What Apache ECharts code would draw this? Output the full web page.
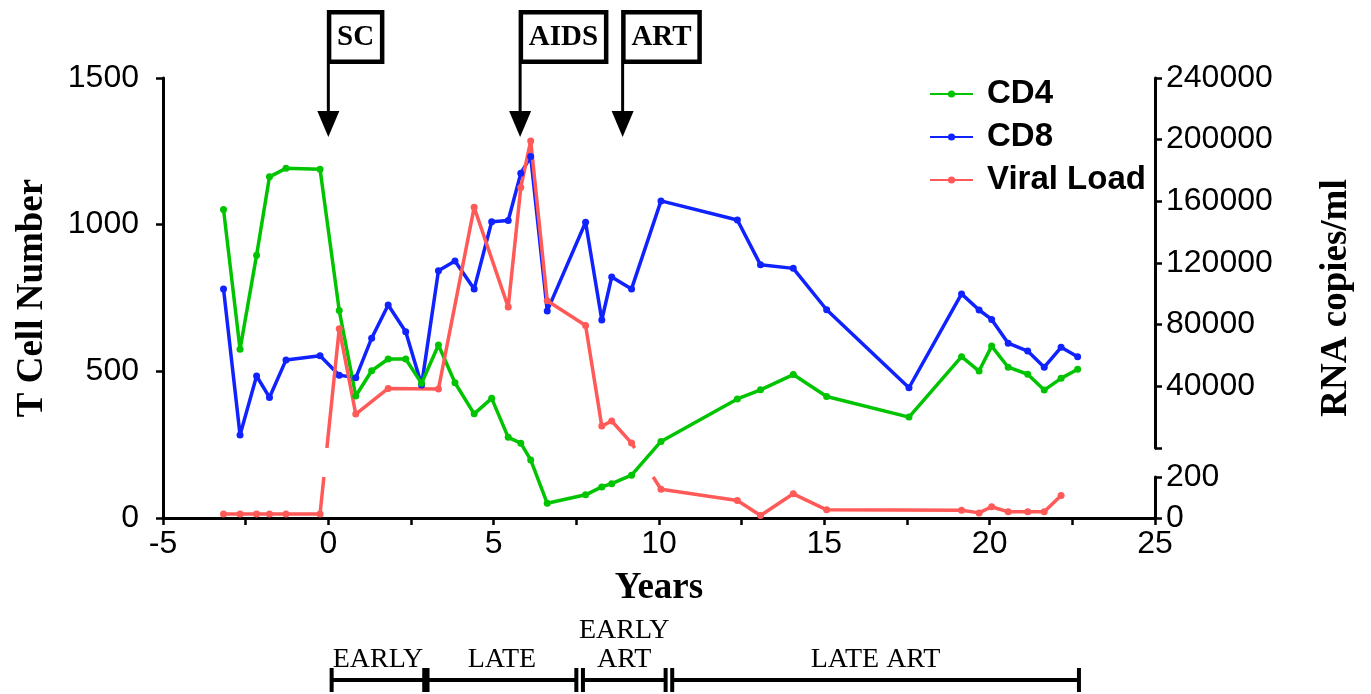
<!DOCTYPE html>
<html><head><meta charset="utf-8">
<script src="https://cdn.jsdelivr.net/npm/echarts@6/dist/echarts.min.js"></script>
<style>html,body{margin:0;padding:0;background:#fff}#c{width:1371px;height:694px}</style>
</head><body><div id="c"></div><script>
// ---- data ----
const cdTimes = [-3.17,-2.67,-2.17,-1.78,-1.28,-0.25,0.33,0.83,1.31,1.81,2.34,2.82,3.33,3.83,4.41,4.94,5.44,5.82,6.12,6.62,7.78,8.27,8.57,9.17,10.06,12.37,13.07,14.06,15.07,17.56,19.15,19.68,20.06,20.56,21.15,21.65,22.16,22.66];
const cd4 = [1052,575,896,1163,1192,1189,707,416,502,542,542,459,590,461,355,408,275,255,198,50,79,106,117,146,261,406,437,489,414,344,550,501,586,514,490,436,476,507];
const cd8 = [781,283,484,411,539,553,487,478,613,726,635,453,843,876,781,1010,1014,1175,1232,706,1008,675,822,781,1081,1016,863,851,710,444,764,709,677,596,569,514,582,550];
const vlTimes = [-3.17,-2.67,-2.17,-1.78,-1.28,-0.25,0.33,0.83,1.81,3.33,4.41,5.44,5.82,6.12,6.62,7.78,8.27,8.57,9.17,10.06,12.37,13.07,14.06,15.07,19.15,19.68,20.06,20.56,21.15,21.65,22.16];
const viralLoad = [20,20,20,20,20,20,77400,22000,38600,38200,156100,91400,169000,199200,95500,79400,14200,17500,3200,140,85,12,118,40,38,25,55,30,30,30,110];
const lowerMax = 200;            // lower (broken) right-axis segment: 0..200
const upperMax = 240000;         // upper right-axis segment: 0..240000
const eventLabels = ['SC','AIDS','ART'];
const eventTimes = [0, 5.8, 8.9];
const phaseLabels = ['EARLY','LATE','EARLY\nART','LATE ART'];
const phaseStart = [0.1, 3.0, 7.7, 10.4];
const phaseEnd = [2.9, 7.5, 10.2, 22.7];

// ---- styling ----
const SANS = '"Liberation Sans", Arial, sans-serif';
const SERIF = '"Liberation Serif", "Times New Roman", serif';
const GREEN = '#00c400', BLUE = '#0f22ff', RED = '#ff5a58';
const GL = 163, GR = 216, GT = 78, GB = 176;
const UPPER_BOTTOM = 246, LOWER_TOP = 477;

const zip = (a, b) => a.map((t, i) => [t, b[i]]);
const upperData = vlTimes.map((t, i) => viralLoad[i] > lowerMax ? [t, viralLoad[i]] : [t, '-']);
const lowerData = vlTimes.map((t, i) => viralLoad[i] <= lowerMax ? [t, viralLoad[i]] : [t, '-']);

const axLine = { show: true, onZero: false, lineStyle: { color: '#000', width: 3 } };
const axTick = { show: true, length: 7, lineStyle: { color: '#000', width: 2.5 } };
const lbl = { color: '#000', fontSize: 32, fontFamily: SANS };

const chart = echarts.init(document.getElementById('c'), null, { renderer: 'canvas' });
const lineSeries = (name, color, xi, data) => ({
  name, type: 'line', xAxisIndex: xi, yAxisIndex: xi, data,
  symbol: 'circle', symbolSize: 7, connectNulls: false,
  lineStyle: { color, width: 3.5 }, itemStyle: { color }, emphasis: { disabled: true }
});

chart.setOption({
  animation: false,
  backgroundColor: '#fff',
  grid: [
    { left: GL, right: GR, top: GT, bottom: GB },
    { left: GL, right: GR, top: GT, bottom: UPPER_BOTTOM },
    { left: GL, right: GR, top: LOWER_TOP, bottom: GB }
  ],
  legend: {
    orient: 'vertical', left: 924, top: 72, itemWidth: 43, itemHeight: 9, itemGap: 9,
    data: ['CD4', 'CD8', 'Viral Load'],
    textStyle: { color: '#000', fontSize: 33, fontWeight: 'bold', fontFamily: SANS, lineHeight: 34, padding: [0, 0, 0, 9] }
  },
  xAxis: [
    { gridIndex: 0, type: 'value', min: -5, max: 25, interval: 2.5,
      axisLine: axLine, axisTick: axTick, splitLine: { show: false },
      axisLabel: Object.assign({ margin: 10, formatter: v => (v % 5 === 0 ? String(v) : '') }, lbl),
      name: 'Years', nameLocation: 'middle', nameGap: 52,
      nameTextStyle: { color: '#000', fontSize: 37, fontWeight: 'bold', fontFamily: SERIF } },
    { gridIndex: 1, type: 'value', min: -5, max: 25, show: false },
    { gridIndex: 2, type: 'value', min: -5, max: 25, show: false }
  ],
  yAxis: [
    { gridIndex: 0, type: 'value', position: 'left', min: 0, max: 1500, interval: 500,
      axisLine: axLine, axisTick: axTick, splitLine: { show: false },
      axisLabel: Object.assign({ margin: 24, formatter: v => String(v) }, lbl),
      name: 'T Cell Number', nameLocation: 'middle', nameRotate: 90, nameGap: 112,
      nameTextStyle: { color: '#000', fontSize: 37, fontWeight: 'bold', fontFamily: SERIF } },
    { gridIndex: 1, type: 'value', position: 'right', min: 0, max: upperMax, interval: 40000,
      axisLine: axLine, axisTick: axTick, splitLine: { show: false },
      axisLabel: Object.assign({ margin: 11, formatter: v => (v === 0 ? '' : String(v)) }, lbl) },
    { gridIndex: 2, type: 'value', position: 'right', min: 0, max: lowerMax, interval: lowerMax,
      axisLine: axLine, axisTick: axTick, splitLine: { show: false },
      axisLabel: Object.assign({ margin: 11, formatter: v => String(v) }, lbl) },
    { gridIndex: 0, type: 'value', position: 'right', min: 0, max: 1,
      axisLine: { show: false }, axisTick: { show: false }, axisLabel: { show: false }, splitLine: { show: false },
      name: 'RNA copies/ml', nameLocation: 'middle', nameRotate: 90, nameGap: 163,
      nameTextStyle: { color: '#000', fontSize: 37, fontWeight: 'bold', fontFamily: SERIF } }
  ],
  series: [
    lineSeries('CD8', BLUE, 0, zip(cdTimes, cd8)),
    lineSeries('CD4', GREEN, 0, zip(cdTimes, cd4)),
    lineSeries('Viral Load', RED, 1, upperData),
    lineSeries('Viral Load', RED, 2, lowerData)
  ]
});

// ---- graphic overlays computed through the axes ----
const g = [];
// bridges of the viral-load line across the axis break
const yUpperBottom = chart.convertToPixel({ yAxisIndex: 1 }, 0);
const yLowerTop = chart.convertToPixel({ yAxisIndex: 2 }, lowerMax);
const panelOf = v => (v > lowerMax ? 1 : 2);
for (let i = 0; i < vlTimes.length - 1; i++) {
  const pa = panelOf(viralLoad[i]), pb = panelOf(viralLoad[i + 1]);
  if (pa === pb) continue;
  const A = chart.convertToPixel({ xAxisIndex: pa, yAxisIndex: pa }, [vlTimes[i], viralLoad[i]]);
  const B = chart.convertToPixel({ xAxisIndex: pb, yAxisIndex: pb }, [vlTimes[i + 1], viralLoad[i + 1]]);
  const Pl = pa === 2 ? A : B, Pu = pa === 2 ? B : A;
  const xAt = y => Pl[0] + (y - Pl[1]) * (Pu[0] - Pl[0]) / (Pu[1] - Pl[1]);
  const ls = { stroke: RED, lineWidth: 3.5 };
  g.push({ type: 'line', z: 10, shape: { x1: Pl[0], y1: Pl[1], x2: xAt(yLowerTop), y2: yLowerTop }, style: ls });
  g.push({ type: 'line', z: 10, shape: { x1: xAt(yUpperBottom), y1: yUpperBottom, x2: Pu[0], y2: Pu[1] }, style: ls });
}
// event flags (SC, AIDS, ART)
const ctx = document.createElement('canvas').getContext('2d');
const boxFont = 'bold 29px ' + SERIF;
ctx.font = boxFont;
eventLabels.forEach((label, i) => {
  const ax = chart.convertToPixel({ xAxisIndex: 0 }, eventTimes[i]);
  const w = ctx.measureText(label).width + 16;
  const bx = ax - 1.5 + 2.25, by = 12.25, bh = 49.5;
  g.push({ type: 'rect', z: 20, shape: { x: bx, y: by, width: w, height: bh }, style: { fill: '#fff', stroke: '#000', lineWidth: 4.5 } });
  g.push({ type: 'text', z: 21, style: { text: label, x: bx + w / 2, y: by + bh / 2 + 1, textAlign: 'center', textVerticalAlign: 'middle', font: boxFont, fill: '#000' } });
  g.push({ type: 'line', z: 20, shape: { x1: ax, y1: 64, x2: ax, y2: 112 }, style: { stroke: '#000', lineWidth: 3 } });
  g.push({ type: 'polygon', z: 20, shape: { points: [[ax - 11, 111], [ax + 11, 111], [ax, 137]] }, style: { fill: '#000' } });
});
// disease phase bar under the axis
const phaseFont = '28px ' + SERIF;
phaseLabels.forEach((label, i) => {
  const x1 = chart.convertToPixel({ xAxisIndex: 0 }, phaseStart[i]);
  const x2 = chart.convertToPixel({ xAxisIndex: 0 }, phaseEnd[i]);
  const bs = { stroke: '#000', lineWidth: 4 };
  g.push({ type: 'line', shape: { x1, y1: 680, x2, y2: 680 }, style: bs });
  g.push({ type: 'line', shape: { x1, y1: 668, x2: x1, y2: 692 }, style: bs });
  g.push({ type: 'line', shape: { x1: x2, y1: 668, x2, y2: 692 }, style: bs });
  g.push({ type: 'text', style: { text: label, x: (x1 + x2) / 2, y: 674, textAlign: 'center', textVerticalAlign: 'bottom', font: phaseFont, fill: '#000', lineHeight: 29 } });
});
chart.setOption({ graphic: g });
</script></body></html>
